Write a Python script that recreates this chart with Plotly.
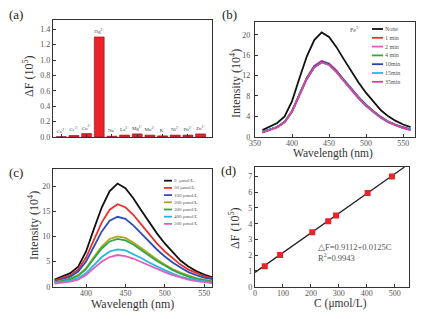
import plotly.graph_objects as go

W, H = 447, 319          # browser window
OFF = 8                   # default body margin of the html page
FW, FH = W - 2 * OFF, H - 2 * OFF
FONT = "Liberation Serif"

# ---------------- data ----------------
# (a) selectivity
ion_names = ["Co", "Ce", "Cu", "Hg", "Na", "La", "Mg", "Mn", "K", "Ni", "Pb", "Zn"]
ion_labels = ["Co<sup>2+</sup>", "Ce<sup>3+</sup>", "Cu<sup>2+</sup>", "Hg<sup>2+</sup>",
              "Na<sup>+</sup>", "La<sup>3+</sup>", "Mg<sup>2+</sup>", "Mn<sup>2+</sup>",
              "K<sup>+</sup>", "Ni<sup>2+</sup>", "Pb<sup>2+</sup>", "Zn<sup>2+</sup>"]
delta_f = [0.005, 0.02, 0.045, 1.30, 0.01, 0.025, 0.04, 0.025, 0.015, 0.025, 0.025, 0.04]

# wavelength grid (nm)
wl = [360, 370, 380, 390, 400, 410, 420, 430, 440, 450, 460,
      470, 480, 490, 500, 510, 520, 530, 540, 550, 560]

# (b) time series with Fe3+
time_labels = ["None", "1 min", "2 min", "4 min", "10min", "15min", "35min"]
time_colors = ["#111111", "#e8322e", "#e05fc0", "#2ca84a", "#2b3fa8", "#22b8e0", "#d9439e"]
b_none = [1.3, 2.0, 2.7, 4.0, 7.0, 11.5, 15.8, 19.0, 20.5, 19.6, 17.6, 15.2, 12.8, 10.6, 8.6, 6.8, 5.2, 4.0, 3.1, 2.4, 1.9]
b_1 = [0.9, 1.4, 1.9, 2.9, 5.0, 8.3, 11.6, 13.9, 14.9, 14.4, 13.0, 11.2, 9.4, 7.8, 6.3, 5.0, 3.9, 3.0, 2.3, 1.8, 1.4]
b_2 = [0.9, 1.4, 1.9, 2.9, 5.0, 8.3, 11.5, 13.8, 14.8, 14.3, 12.9, 11.1, 9.3, 7.7, 6.2, 4.9, 3.8, 2.9, 2.3, 1.8, 1.4]
b_4 = [0.9, 1.4, 1.9, 2.9, 5.0, 8.2, 11.4, 13.7, 14.7, 14.2, 12.8, 11.0, 9.2, 7.6, 6.1, 4.9, 3.8, 2.9, 2.3, 1.8, 1.4]
b_10 = [0.9, 1.4, 1.9, 2.9, 5.0, 8.3, 11.5, 13.8, 14.8, 14.3, 12.9, 11.1, 9.3, 7.7, 6.2, 4.9, 3.8, 2.9, 2.3, 1.8, 1.4]
b_15 = [0.9, 1.4, 1.9, 2.9, 4.9, 8.2, 11.4, 13.6, 14.6, 14.1, 12.7, 11.0, 9.2, 7.6, 6.1, 4.8, 3.7, 2.9, 2.2, 1.7, 1.4]
b_35 = [0.8, 1.3, 1.8, 2.8, 4.9, 8.1, 11.3, 13.6, 14.6, 14.1, 12.7, 10.9, 9.1, 7.5, 6.0, 4.8, 3.7, 2.8, 2.2, 1.7, 1.3]
b_series = [b_none, b_1, b_2, b_4, b_10, b_15, b_35]

# (c) concentration series
conc_labels = ["0  μmol/L", "50 μmol/L", "100 μmol/L", "200 μmol/L", "300 μmol/L", "400 μmol/L", "500 μmol/L"]
conc_colors = ["#111111", "#e8322e", "#2b4fb8", "#b5a31c", "#2ca84a", "#22b8e0", "#e05fc0"]
c_0 = [1.4, 2.0, 2.7, 4.0, 7.0, 11.5, 15.8, 19.0, 20.5, 19.6, 17.6, 15.2, 12.8, 10.6, 8.6, 6.8, 5.2, 4.0, 3.1, 2.4, 1.9]
c_50 = [1.2, 1.7, 2.3, 3.4, 5.8, 9.3, 12.8, 15.3, 16.4, 15.8, 14.3, 12.4, 10.4, 8.6, 7.0, 5.6, 4.4, 3.4, 2.7, 2.1, 1.7]
c_100 = [1.0, 1.5, 2.0, 3.0, 5.0, 8.0, 11.0, 13.1, 13.9, 13.5, 12.2, 10.6, 8.9, 7.4, 6.0, 4.8, 3.8, 2.9, 2.3, 1.8, 1.5]
c_200 = [0.9, 1.2, 1.6, 2.3, 3.7, 5.9, 8.0, 9.5, 10.0, 9.7, 8.8, 7.7, 6.5, 5.4, 4.4, 3.5, 2.8, 2.2, 1.7, 1.4, 1.1]
c_300 = [0.8, 1.1, 1.5, 2.2, 3.5, 5.6, 7.6, 9.0, 9.5, 9.2, 8.4, 7.3, 6.2, 5.1, 4.2, 3.3, 2.6, 2.0, 1.6, 1.3, 1.0]
c_400 = [0.7, 0.9, 1.2, 1.7, 2.7, 4.3, 5.9, 7.0, 7.4, 7.2, 6.5, 5.7, 4.8, 4.0, 3.3, 2.6, 2.0, 1.6, 1.3, 1.0, 0.8]
c_500 = [0.6, 0.8, 1.0, 1.4, 2.3, 3.7, 5.0, 5.9, 6.3, 6.1, 5.6, 4.9, 4.2, 3.5, 2.9, 2.3, 1.8, 1.4, 1.1, 0.9, 0.7]
c_series = [c_0, c_50, c_100, c_200, c_300, c_400, c_500]

# (d) calibration
cal_c = [35, 90, 205, 262, 290, 403, 490]
cal_df = [1.3, 2.02, 3.45, 4.15, 4.52, 5.95, 7.0]
fit_intercept = 0.9112
fit_slope = 0.0125
fit_c = [0, 535]
fit_df = [fit_intercept + fit_slope * c for c in fit_c]

# axis titles
title_df = "ΔF (10<sup>5</sup>)"
title_int = "Intensity (10<sup>4</sup>)"
title_wl = "Wavelength (nm)"
title_c = "C (μmol/L)"


# ---------------- helpers (window pixels -> paper fraction) ----------------
def px(x):
    return (x - OFF) / FW


def py(y):
    return 1 - (y - OFF) / FH


fig = go.Figure()

# (a)
fig.add_trace(go.Bar(
    x=ion_names, y=delta_f, text=ion_labels, textposition="outside",
    textfont=dict(family=FONT, size=5, color="#444"), outsidetextfont=dict(family=FONT, size=5, color="#444"),
    constraintext="none", cliponaxis=False, width=0.78,
    marker=dict(color="#e8232a", line=dict(color="#8a1010", width=0.6)),
    xaxis="x", yaxis="y", showlegend=False,
))

# (b)
for s, c, n in zip(b_series, time_colors, time_labels):
    fig.add_trace(go.Scatter(x=wl, y=s, mode="lines", name=n, line=dict(color=c, width=1.8),
                             xaxis="x2", yaxis="y2", showlegend=False))

# (c)
for s, c, n in zip(c_series, conc_colors, conc_labels):
    fig.add_trace(go.Scatter(x=wl, y=s, mode="lines", name=n, line=dict(color=c, width=1.8),
                             xaxis="x3", yaxis="y3", showlegend=False))

# (d)
fig.add_trace(go.Scatter(x=fit_c, y=fit_df, mode="lines", line=dict(color="#222", width=1.3),
                         xaxis="x4", yaxis="y4", showlegend=False))
fig.add_trace(go.Scatter(x=cal_c, y=cal_df, mode="markers",
                         marker=dict(symbol="square", size=6, color="#e8232a"),
                         xaxis="x4", yaxis="y4", showlegend=False))

axis_common = dict(showline=True, linecolor="#333", linewidth=1.4, mirror=True,
                   ticks="inside", ticklen=3, tickcolor="#333", showgrid=False, zeroline=False,
                   tickfont=dict(family=FONT, size=8, color="#555"), automargin=False)
xaxis_extra = dict(ticklabelstandoff=-2)

fig.update_layout(
    width=FW, height=FH, margin=dict(l=0, r=0, t=0, b=0),
    paper_bgcolor="white", plot_bgcolor="white",
    font=dict(family=FONT),
    xaxis=dict(**axis_common, domain=[px(53), px(212)], anchor="y", range=[-0.65, 11.9],
               showticklabels=False, type="category"),
    yaxis=dict(**axis_common, domain=[py(137), py(20)], anchor="x", range=[0, 1.52],
               dtick=0.2, tickformat=".1f"),
    xaxis2=dict(**axis_common, **xaxis_extra, domain=[px(255), px(415)], anchor="y2",
                range=[350, 566], dtick=50),
    yaxis2=dict(**axis_common, domain=[py(136.7), py(21.7)], anchor="x2", range=[0, 22.6], dtick=4,
                ticklabelstandoff=2),
    xaxis3=dict(**axis_common, **xaxis_extra, domain=[px(53), px(212)], anchor="y3", range=[358, 560],
                tickvals=[400, 450, 500, 550]),
    yaxis3=dict(**axis_common, domain=[py(286.7), py(169)], anchor="x3", range=[0, 23.4], dtick=5),
    xaxis4=dict(**axis_common, **xaxis_extra, domain=[px(255), px(409)], anchor="y4",
                range=[0, 551], dtick=100),
    yaxis4=dict(**axis_common, domain=[py(286.7), py(167)], anchor="x4", range=[0, 7.6], dtick=1),
)

annotations = []
shapes = []


def ann(text, x, y, size, color="#333", angle=0, xanchor="center"):
    annotations.append(dict(text=text, x=px(x), y=py(y), xref="paper", yref="paper",
                            xanchor=xanchor, yanchor="middle", textangle=angle,
                            showarrow=False, borderpad=0, font=dict(family=FONT, size=size, color=color)))


# panel labels
for lbl, (x, y) in zip(["(a)", "(b)", "(c)", "(d)"], [(16, 14), (229, 14), (16, 172), (228, 170)]):
    ann(lbl, x, y, 13, "#222")

# axis titles
ann(title_df, 28, 76, 12, angle=-90)
ann(title_int, 235, 83, 12, angle=-90)
ann(title_wl, 333, 153, 11.5)
ann(title_int, 33, 226, 12, angle=-90)
ann(title_wl, 132, 304, 12)
ann(title_df, 234, 228, 12, angle=-90)
ann(title_c, 340, 303.5, 11.5)

# legend (b)
ann("Fe<sup>3+</sup>", 355, 29, 6, "#555")
for i, (n, c) in enumerate(zip(time_labels, time_colors)):
    yy = 29 + i * 8.8
    shapes.append(dict(type="line", xref="paper", yref="paper", x0=px(372), x1=px(383),
                       y0=py(yy), y1=py(yy), line=dict(color=c, width=1.8)))
    ann(n, 384, yy, 6, "#555", xanchor="left")

# legend (c)
for i, (n, c) in enumerate(zip(conc_labels, conc_colors)):
    yy = 180.7 + i * 7.2
    shapes.append(dict(type="line", xref="paper", yref="paper", x0=px(164), x1=px(172),
                       y0=py(yy), y1=py(yy), line=dict(color=c, width=1.8)))
    ann(n, 173, yy, 5, "#555", xanchor="left")

# equation (d)
annotations.append(dict(text="△F=0.9112+0.0125C", x=222, y=2.55, xref="x4", yref="y4", xanchor="left",
                        showarrow=False, borderpad=0, font=dict(family=FONT, size=8.5, color="#555")))
annotations.append(dict(text="R<sup>2</sup>=0.9943", x=222, y=1.85, xref="x4", yref="y4", xanchor="left",
                        showarrow=False, borderpad=0, font=dict(family=FONT, size=8.5, color="#555")))

fig.update_layout(annotations=annotations, shapes=shapes)
fig.write_html("out.html")
